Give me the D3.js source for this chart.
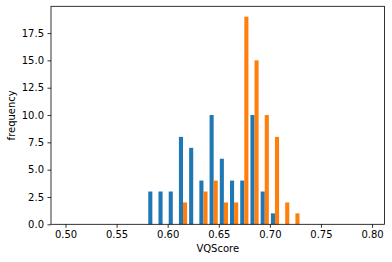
<!DOCTYPE html>
<html><head><meta charset="utf-8">
<script src="https://cdn.jsdelivr.net/npm/d3@7"></script>
<style>body{margin:0;background:#fff}svg{display:block}text{font-family:"DejaVu Sans",sans-serif;}</style>
</head><body>
<svg id="c" width="392" height="262"></svg>
<script>
const binStarts = [0.58,0.59,0.60,0.61,0.62,0.63,0.64,0.65,0.66,0.67,0.68,0.69,0.70,0.71,0.72];
const seriesA = [3,3,3,8,7,4,10,6,4,4,10,3,1,0,0];
const seriesB = [0,0,0,2,0,3,4,2,2,19,15,10,8,2,1];
const binWidth = 0.01;
const xTicks = [0.50,0.55,0.60,0.65,0.70,0.75,0.80];
const yTicks = [0,2.5,5,7.5,10,12.5,15,17.5];
const colors = ["#1f77b4","#ff7f0e"];

const L=51, R=384.5, T=6.3, B=224.3;
const svg = d3.select("#c");
const x = d3.scaleLinear().domain([0.4858,0.8122]).range([L,R]);
const y = d3.scaleLinear().domain([0,19.95]).range([B,T]);

const series=[seriesA,seriesB];
series.forEach((s,si)=>{
  svg.append("g").selectAll("rect").data(binStarts.map((b,i)=>({b,v:s[i]})).filter(d=>d.v>0))
    .join("rect")
    .attr("x",d=>x(d.b+binWidth*(0.1+0.4*si)))
    .attr("width",d=>x(d.b+binWidth*(0.1+0.4*(si+1)))-x(d.b+binWidth*(0.1+0.4*si)))
    .attr("y",d=>y(d.v))
    .attr("height",d=>y(0)-y(d.v))
    .attr("fill",colors[si]);
});

const xa = svg.append("g").attr("transform",`translate(0,${B})`)
  .call(d3.axisBottom(x).tickValues(xTicks).tickFormat(d3.format(".2f")).tickSize(3.5).tickPadding(3.5));
const ya = svg.append("g").attr("transform",`translate(${L},0)`)
  .call(d3.axisLeft(y).tickValues(yTicks).tickFormat(d3.format(".1f")).tickSize(3.5).tickPadding(3.5));
[xa,ya].forEach(a=>{
  a.select(".domain").remove();
  a.selectAll("line").attr("stroke","#000").attr("stroke-width",0.8);
  a.selectAll("text").attr("font-size",10).attr("font-family","DejaVu Sans").attr("fill","#000");
});
svg.append("rect").attr("x",L).attr("y",T).attr("width",R-L).attr("height",B-T)
  .attr("fill","none").attr("stroke","#000").attr("stroke-width",0.8);

svg.append("text").attr("x",(L+R)/2).attr("y",252).attr("text-anchor","middle")
  .attr("font-size",10).text("VQScore");
svg.append("text").attr("transform",`translate(15,${(T+B)/2}) rotate(-90)`).attr("text-anchor","middle")
  .attr("font-size",10).text("frequency");
</script>
</body></html>
